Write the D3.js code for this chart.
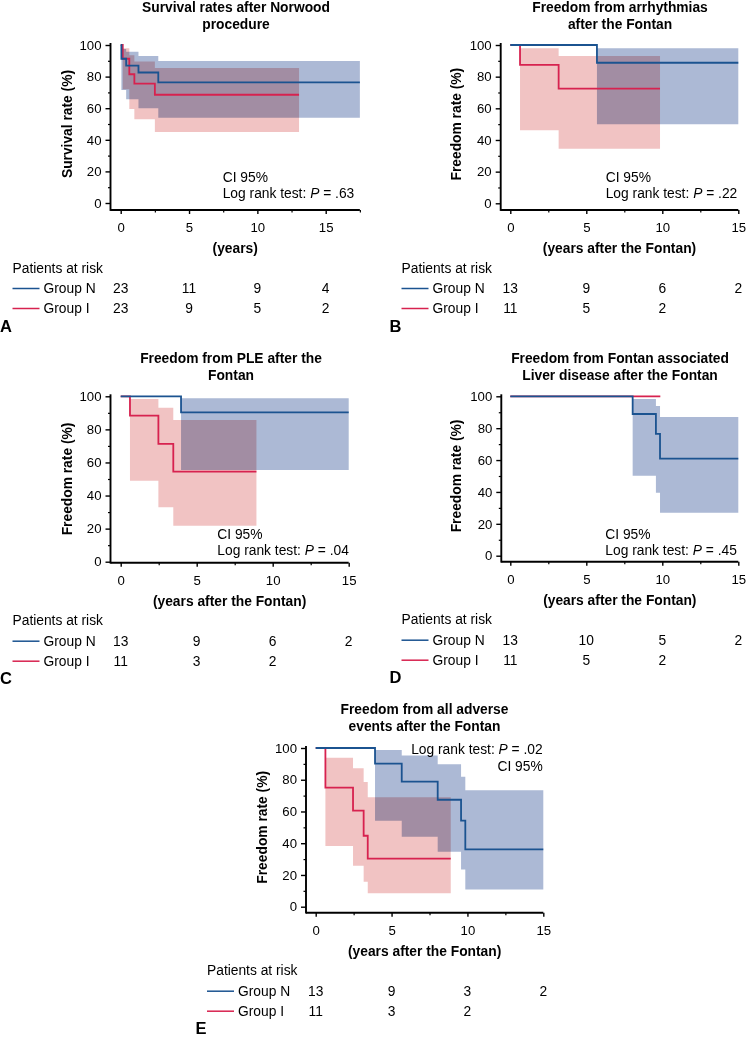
<!DOCTYPE html>
<html>
<head>
<meta charset="utf-8">
<script src="https://cdn.jsdelivr.net/npm/d3@7"></script>
<style>
  html, body { margin: 0; padding: 0; background: #fff; }
  svg { display: block; font-family: "Liberation Sans", Arial, Helvetica, sans-serif; }
  .band { mix-blend-mode: multiply; }
</style>
</head>
<body>
<svg id="chart" width="746" height="1037"></svg>
<script>
// ---------- data ----------
const xTicks = [0, 5, 10, 15];
const yTicks = [0, 20, 40, 60, 80, 100];
const yMinorTicks = [10, 30, 50, 70, 90];
const groupNames = ["Group N", "Group I"];

// Panel A: survival after Norwood
const aBlueTime  = [0, 0.05, 0.4, 1.3, 2.75, 17.5];
const aBlueSurv  = [100, 91.3, 87, 82.6, 76.3, 76.3];
const aBlueUpper = [100, 97.5, 95.8, 93, 89.8, 89.8];
const aBlueLower = [100, 71.5, 65.7, 60, 54, 54];
const aRedTime   = [0, 0.15, 0.63, 1.0, 2.5, 13.05];
const aRedSurv   = [100, 91.3, 81.5, 75.5, 68.5, 68.5];
const aRedUpper  = [100, 98, 93.5, 89.5, 85.5, 85.5];
const aRedLower  = [100, 72, 59.5, 53, 45, 45];
const aRiskN = [23, 11, 9, 4];
const aRiskI = [23, 9, 5, 2];

// Panel B: arrhythmias
const bBlueTime  = [0, 5.7, 15];
const bBlueSurv  = [100, 88.8, 88.8];
const bBlueUpper = [100, 97.9, 97.9];
const bBlueLower = [100, 49.9, 49.9];
const bRedTime   = [0, 0.64, 3.18, 9.85];
const bRedSurv   = [100, 87.5, 72.4, 72.4];
const bRedUpper  = [100, 97.9, 93.1, 93.1];
const bRedLower  = [100, 46.1, 34.5, 34.5];
const bRiskN = [13, 9, 6, 2];
const bRiskI = [11, 5, 2];

// Panel C: PLE
const cBlueTime  = [0, 3.97, 15];
const cBlueSurv  = [100, 90.3, 90.3];
const cBlueUpper = [100, 98.8, 98.8];
const cBlueLower = [100, 55.4, 55.4];
const cRedTime   = [0, 0.61, 2.48, 3.46, 8.93];
const cRedSurv   = [100, 88.3, 71.2, 54.4, 54.4];
const cRedUpper  = [100, 98.4, 93.1, 85.7, 85.7];
const cRedLower  = [100, 49, 32.9, 21.8, 21.8];
const cRiskN = [13, 9, 6, 2];
const cRiskI = [11, 3, 2];

// Panel D: liver disease
const dBlueTime  = [0, 8.05, 9.58, 9.85, 15];
const dBlueSurv  = [100, 88.9, 76.4, 60.9, 60.9];
const dBlueUpper = [100, 98.3, 93.9, 87, 87];
const dBlueLower = [100, 50.2, 39.5, 27, 27];
const dRedTime   = [0, 9.87];
const dRedSurv   = [100, 100];
const dRedUpper  = [100, 100];
const dRedLower  = [100, 100];
const dRiskN = [13, 10, 5, 2];
const dRiskI = [11, 5, 2];

// Panel E: all adverse events
const eBlueTime  = [0, 3.91, 5.67, 8.04, 9.58, 9.86, 15];
const eBlueSurv  = [100, 90.1, 78.8, 67.4, 54.2, 36.1, 36.1];
const eBlueUpper = [100, 98.7, 95.2, 89.7, 81.9, 73.3, 73.3];
const eBlueLower = [100, 54.2, 44.1, 34.7, 23.5, 10.9, 10.9];
const eRedTime   = [0, 0.64, 2.46, 3.16, 3.43, 8.9];
const eRedSurv   = [100, 75, 60.5, 44.7, 30.3, 30.3];
const eRedUpper  = [100, 93.9, 87.2, 78.6, 68.9, 68.9];
const eRedLower  = [100, 38.2, 25.8, 15.8, 8.4, 8.4];
const eRiskN = [13, 9, 3, 2];
const eRiskI = [11, 3, 2];

// ---------- styles ----------
const BLUE = "#1b5390", RED = "#d7224f";
const BLUE_BAND = "#acb9d5", RED_BAND = "#f1c3c3";
const FS = 13.8, TICK_FS = 13.2;

const svg = d3.select("#chart");

function series(t, s, u, l) { return t.map((d, i) => ({ t: d, s: s[i], u: u[i], l: l[i] })); }

function drawPanel(c) {
  const g = svg.append("g");
  const x = d3.scaleLinear().domain([0, 15]).range([c.x0, c.x15]);
  const y = d3.scaleLinear().domain([0, 100]).range([c.y0, c.y100]);

  // title
  c.title.forEach((t, i) => g.append("text").attr("x", c.titleX).attr("y", c.titleY + i * 17)
    .attr("text-anchor", "middle").attr("font-weight", "bold").attr("font-size", FS).text(t));

  // bands
  const area = d3.area().curve(d3.curveStepAfter).x(d => x(d.t)).y0(d => y(d.l)).y1(d => y(d.u));
  const line = d3.line().curve(d3.curveStepAfter).x(d => x(d.t)).y(d => y(d.s));
  const red = series(...c.red), blue = series(...c.blue);
  g.append("path").attr("class", "band").attr("d", area(red)).attr("fill", RED_BAND);
  g.append("path").attr("class", "band").attr("d", area(blue)).attr("fill", BLUE_BAND);
  g.append("path").attr("d", line(red)).attr("fill", "none").attr("stroke", RED).attr("stroke-width", 1.8);
  g.append("path").attr("d", line(blue)).attr("fill", "none").attr("stroke", BLUE).attr("stroke-width", 1.8);

  // y axis
  const ya = g.append("g").attr("transform", `translate(${c.axisX},0)`)
    .call(d3.axisLeft(y).tickValues(yTicks).tickSize(5).tickPadding(4));
  ya.select(".domain").remove();
  ya.selectAll("text").attr("font-size", TICK_FS).attr("font-family", null);
  ya.selectAll("line").attr("stroke-width", 1.4);
  const ym = g.append("g").attr("transform", `translate(${c.axisX},0)`)
    .call(d3.axisLeft(y).tickValues(yMinorTicks).tickSize(2.5).tickFormat(""));
  ym.select(".domain").remove();
  ym.selectAll("line").attr("stroke-width", 1.2);

  // x axis
  const xa = g.append("g").attr("transform", `translate(0,${c.axisY})`)
    .call(d3.axisBottom(x).tickValues(xTicks).tickSize(4).tickPadding(9));
  xa.select(".domain").remove();
  xa.selectAll("text").attr("font-size", TICK_FS).attr("font-family", null);
  xa.selectAll("line").attr("stroke-width", 1.4);
  const minors = d3.range(2.5, c.xMax + 0.01, 5);
  const xm = g.append("g").attr("transform", `translate(0,${c.axisY})`)
    .call(d3.axisBottom(x).tickValues(minors).tickSize(2.5).tickFormat(""));
  xm.select(".domain").remove();
  xm.selectAll("line").attr("stroke-width", 1.2);

  // axis lines
  g.append("line").attr("x1", c.axisX).attr("x2", c.axisX).attr("y1", y(100) - 2).attr("y2", c.axisY + 0.9)
    .attr("stroke", "#000").attr("stroke-width", 1.9);
  g.append("line").attr("x1", c.axisX).attr("x2", x(c.xMax)).attr("y1", c.axisY).attr("y2", c.axisY)
    .attr("stroke", "#000").attr("stroke-width", 1.9);

  // y label
  g.append("text").attr("transform", `translate(${c.ylabelX},${(y(0) + y(100)) / 2}) rotate(-90)`)
    .attr("text-anchor", "middle").attr("dominant-baseline", "central")
    .attr("font-weight", "bold").attr("font-size", FS).text(c.ylabel);

  // x label
  g.append("text").attr("x", (c.axisX + x(c.xMax)) / 2).attr("y", c.axisY + 43)
    .attr("text-anchor", "middle").attr("font-weight", "bold").attr("font-size", FS).text(c.xlabel);

  // CI text
  c.ciLines.forEach((ln, i) => {
    const t = g.append("text").attr("x", c.ciX).attr("y", c.ciY + i * 16.5)
      .attr("text-anchor", c.ciAnchor).attr("font-size", FS);
    if (ln.p) {
      t.append("tspan").text("Log rank test: ");
      t.append("tspan").attr("font-style", "italic").text("P");
      t.append("tspan").text(" = " + ln.p);
    } else t.text(ln.t);
  });

  // risk table
  const r0 = c.axisY + 62.5;
  g.append("text").attr("x", c.riskX).attr("y", r0).attr("font-size", FS).text("Patients at risk");
  [[c.riskN, BLUE], [c.riskI, RED]].forEach(([vals, col], k) => {
    const cy = r0 + 16 + k * 20;
    g.append("line").attr("x1", c.riskX).attr("x2", c.riskX + 27).attr("y1", cy).attr("y2", cy)
      .attr("stroke", col).attr("stroke-width", 1.5);
    g.append("text").attr("x", c.riskX + 31).attr("y", cy + 4.8).attr("font-size", FS).text(groupNames[k]);
    vals.forEach((v, j) => g.append("text").attr("x", x(xTicks[j])).attr("y", cy + 4.8)
      .attr("text-anchor", "middle").attr("font-size", FS).text(v));
  });
  g.append("text").attr("x", c.letterX).attr("y", c.axisY + 121.5).attr("font-weight", "bold")
    .attr("font-size", 16.5).text(c.letter);
}

const pA = { title: ["Survival rates after Norwood", "procedure"], titleX: 236, titleY: 12,
  axisX: 110.5, x0: 120.7, x15: 325.7, xMax: 17.5, y100: 45, y0: 203, axisY: 210,
  ylabel: "Survival rate (%)", ylabelX: 67, xlabel: "(years)",
  ciX: 222.7, ciY: 181.5, ciAnchor: "start", ciLines: [{ t: "CI 95%" }, { p: ".63" }],
  riskX: 12.5, letterX: 0, letter: "A",
  blue: [aBlueTime, aBlueSurv, aBlueUpper, aBlueLower], red: [aRedTime, aRedSurv, aRedUpper, aRedLower],
  riskN: aRiskN, riskI: aRiskI };
const pB = { title: ["Freedom from arrhythmias", "after the Fontan"], titleX: 620, titleY: 12,
  axisX: 500.7, x0: 510.3, x15: 738.3, xMax: 15, y100: 45, y0: 203.3, axisY: 210,
  ylabel: "Freedom rate (%)", ylabelX: 456.5, xlabel: "(years after the Fontan)",
  ciX: 605.7, ciY: 181.5, ciAnchor: "start", ciLines: [{ t: "CI 95%" }, { p: ".22" }],
  riskX: 401.5, letterX: 389.5, letter: "B",
  blue: [bBlueTime, bBlueSurv, bBlueUpper, bBlueLower], red: [bRedTime, bRedSurv, bRedUpper, bRedLower],
  riskN: bRiskN, riskI: bRiskI };
const pC = { title: ["Freedom from PLE after the", "Fontan"], titleX: 231, titleY: 363,
  axisX: 110.5, x0: 120.7, x15: 348.7, xMax: 15, y100: 396.3, y0: 561.7, axisY: 562.7,
  ylabel: "Freedom rate (%)", ylabelX: 67, xlabel: "(years after the Fontan)",
  ciX: 217.3, ciY: 538.7, ciAnchor: "start", ciLines: [{ t: "CI 95%" }, { p: ".04" }],
  riskX: 12.5, letterX: 0, letter: "C",
  blue: [cBlueTime, cBlueSurv, cBlueUpper, cBlueLower], red: [cRedTime, cRedSurv, cRedUpper, cRedLower],
  riskN: cRiskN, riskI: cRiskI };
const pD = { title: ["Freedom from Fontan associated", "Liver disease after the Fontan"], titleX: 620, titleY: 363,
  axisX: 501.3, x0: 510.3, x15: 738.3, xMax: 15, y100: 396.3, y0: 555.7, axisY: 561.7,
  ylabel: "Freedom rate (%)", ylabelX: 456.5, xlabel: "(years after the Fontan)",
  ciX: 605.3, ciY: 538.7, ciAnchor: "start", ciLines: [{ t: "CI 95%" }, { p: ".45" }],
  riskX: 401.5, letterX: 389.5, letter: "D",
  blue: [dBlueTime, dBlueSurv, dBlueUpper, dBlueLower], red: [dRedTime, dRedSurv, dRedUpper, dRedLower],
  riskN: dRiskN, riskI: dRiskI };
const pE = { title: ["Freedom from all adverse", "events after the Fontan"], titleX: 424.5, titleY: 714,
  axisX: 306, x0: 315.7, x15: 543.3, xMax: 15, y100: 748, y0: 906.7, axisY: 912.7,
  ylabel: "Freedom rate (%)", ylabelX: 262, xlabel: "(years after the Fontan)",
  ciX: 542.7, ciY: 754, ciAnchor: "end", ciLines: [{ p: ".02" }, { t: "CI 95%" }],
  riskX: 207, letterX: 195.5, letter: "E",
  blue: [eBlueTime, eBlueSurv, eBlueUpper, eBlueLower], red: [eRedTime, eRedSurv, eRedUpper, eRedLower],
  riskN: eRiskN, riskI: eRiskI };

[pA, pB, pC, pD, pE].forEach(drawPanel);
</script>
</body>
</html>
